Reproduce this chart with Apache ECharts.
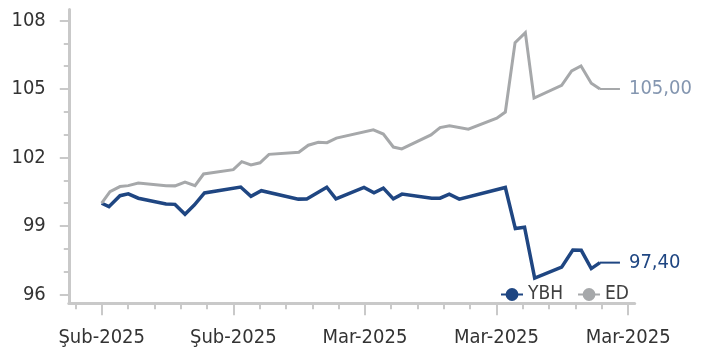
<!DOCTYPE html>
<html>
<head>
<meta charset="utf-8">
<script src="https://cdn.jsdelivr.net/npm/echarts@6/dist/echarts.min.js"></script>
<style>
html,body{margin:0;padding:0;background:#fff;}
#c{width:706px;height:349px;}
</style>
</head>
<body>
<div id="c"></div>
<script>
const tickLabels = ['Şub-2025', 'Şub-2025', 'Mar-2025', 'Mar-2025', 'Mar-2025'];
const tickDays = [0, 10, 20, 30, 40];
const minorTickDays = [-2, 2, 4, 6, 8, 12, 14, 16, 18, 22, 24, 26, 28, 32, 34, 36, 38];
const yTicks = [96, 99, 102, 105, 108];
const yMinorTicks = [97, 98, 100, 101, 103, 104, 106, 107];

const ybhDays = [0, 0.55, 1.39, 2.02, 2.78, 4.89, 5.57, 6.33, 7.05, 7.81, 10.56, 11.34, 12.13, 14.94, 15.58, 17.10, 17.80, 19.93, 20.69, 21.40, 22.16, 22.82, 25.08, 25.71, 26.41, 27.17, 30.67, 31.43, 32.13, 32.90, 34.95, 35.80, 36.44, 37.20, 37.86];
const ybhValues = [100.00, 99.85, 100.33, 100.41, 100.22, 99.97, 99.95, 99.52, 99.93, 100.45, 100.71, 100.30, 100.55, 100.18, 100.19, 100.70, 100.19, 100.69, 100.46, 100.66, 100.19, 100.40, 100.22, 100.22, 100.40, 100.18, 100.69, 98.89, 98.95, 96.72, 97.20, 97.95, 97.94, 97.14, 97.40];

const edDays = [0, 0.63, 1.39, 2.02, 2.78, 4.89, 5.57, 6.33, 7.09, 7.74, 10.0, 10.64, 11.34, 12.03, 12.71, 14.98, 15.70, 16.46, 17.12, 17.83, 20.64, 21.40, 22.16, 22.80, 25.02, 25.71, 26.43, 27.86, 30.02, 30.67, 31.41, 32.19, 32.85, 34.95, 35.71, 36.42, 37.20, 37.86];
const edValues = [100.00, 100.51, 100.73, 100.77, 100.88, 100.77, 100.76, 100.93, 100.77, 101.28, 101.47, 101.82, 101.68, 101.77, 102.14, 102.23, 102.54, 102.67, 102.65, 102.85, 103.21, 103.03, 102.46, 102.38, 102.99, 103.31, 103.39, 103.24, 103.72, 103.99, 107.03, 107.47, 104.60, 105.16, 105.79, 106.01, 105.25, 105.00];

const FONT = "'DejaVu Sans Condensed', 'Noto Sans', 'DejaVu Sans', sans-serif";
const BLUE = '#1F4682';
const GRAY = '#A6A8AA';
const GRAY_LABEL = '#8496B0';
const AXIS = '#C9C9C9';

function pairs(xs, ys) { return xs.map((x, i) => [x, ys[i]]); }
function fmt(v) { return v.toFixed(2).replace('.', ','); }

function endLabel(lineColor, textColor) {
  return {
    show: true,
    distance: 0,
    formatter: p => '{l| }{v|' + fmt(p.value[1]) + '}',
    rich: {
      l: { width: 20, height: 2, lineHeight: 2, backgroundColor: lineColor, verticalAlign: 'middle', fontSize: 2 },
      v: { fontSize: 20, fontFamily: FONT, color: textColor, padding: [0, 0, 0, 9], verticalAlign: 'middle' }
    }
  };
}

const chart = echarts.init(document.getElementById('c'), null, { renderer: 'canvas' });
const yMin = 95.62, yMax = 108.48;
chart.setOption({
  animation: false,
  textStyle: { fontFamily: FONT },
  grid: { left: 68.8, right: 71.3, top: 9.5, bottom: 45.7, outerBoundsMode: 'none', containLabel: false },
  legend: {
    data: ['YBH', 'ED'],
    right: 72, top: 280,
    itemWidth: 22, itemHeight: 16, itemGap: 14,
    textStyle: { fontSize: 19, color: '#404040', fontFamily: FONT }
  },
  xAxis: [{
    type: 'value', min: -2.5, max: 40.5,
    axisLine: { show: true, onZero: false, lineStyle: { color: AXIS, width: 3 } },
    axisTick: { show: true, length: 12, customValues: tickDays, lineStyle: { color: AXIS, width: 2 } },
    axisLabel: {
      show: true, customValues: tickDays, margin: 24, fontSize: 20, color: '#333333', fontFamily: FONT,
      formatter: v => tickLabels[Math.round(v / 10)]
    },
    splitLine: { show: false }
  }, {
    type: 'value', min: -2.5, max: 40.5, position: 'bottom',
    axisLine: { show: false, onZero: false },
    axisTick: { show: true, length: 6, customValues: minorTickDays, lineStyle: { color: AXIS, width: 2 } },
    axisLabel: { show: false },
    splitLine: { show: false }
  }],
  yAxis: [{
    type: 'value', min: yMin, max: yMax,
    axisLine: { show: true, onZero: false, lineStyle: { color: AXIS, width: 3 } },
    axisTick: { show: true, length: 9, customValues: yTicks, lineStyle: { color: AXIS, width: 2 } },
    axisLabel: { show: true, customValues: yTicks, margin: 23, fontSize: 20, color: '#333333', fontFamily: FONT },
    splitLine: { show: false }
  }, {
    type: 'value', min: yMin, max: yMax, position: 'left',
    axisLine: { show: false, onZero: false },
    axisTick: { show: true, length: 5, customValues: yMinorTicks, lineStyle: { color: AXIS, width: 2 } },
    axisLabel: { show: false },
    splitLine: { show: false }
  }],
  series: [{
    name: 'YBH', type: 'line', data: pairs(ybhDays, ybhValues),
    symbol: 'circle', showSymbol: false, symbolSize: 10,
    itemStyle: { color: BLUE },
    lineStyle: { color: BLUE, width: 3.5, join: 'miter' },
    endLabel: endLabel(BLUE, BLUE)
  }, {
    name: 'ED', type: 'line', data: pairs(edDays, edValues),
    symbol: 'circle', showSymbol: false, symbolSize: 10,
    itemStyle: { color: GRAY },
    lineStyle: { color: GRAY, width: 3, join: 'miter' },
    endLabel: endLabel(GRAY, GRAY_LABEL)
  }]
});
</script>
</body>
</html>
